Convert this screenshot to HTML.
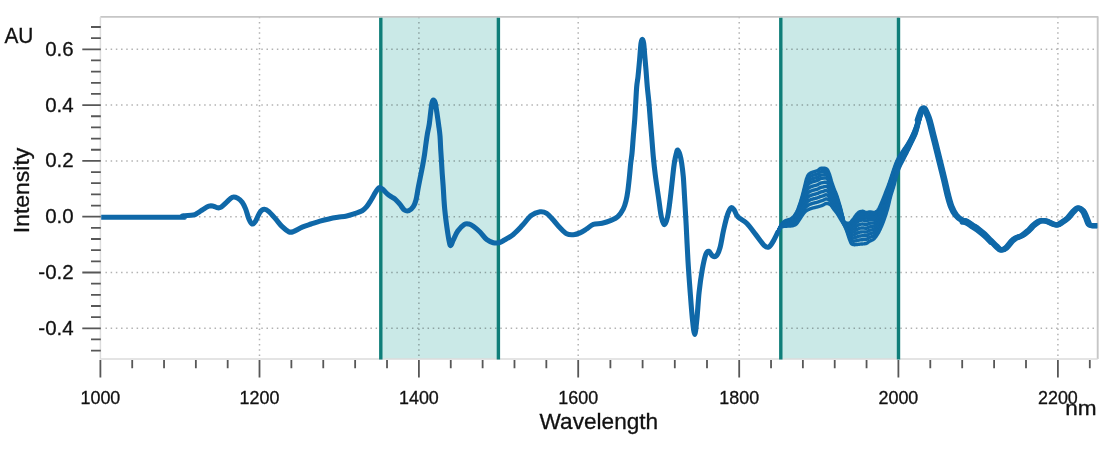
<!DOCTYPE html><html><head><meta charset="utf-8"><title>Spectrum</title><style>
html,body{margin:0;padding:0;background:#fff;width:1114px;height:450px;overflow:hidden}
svg{display:block;will-change:transform}
text{font-family:"Liberation Sans",Arial,sans-serif;fill:#111;stroke:#111;stroke-width:0.3px}
</style></head><body>
<svg width="1114" height="450" viewBox="0 0 1114 450">
<rect x="380.8" y="16.9" width="117.6" height="342.2" fill="#cae9e7"/>
<rect x="780.8" y="16.9" width="117.7" height="342.2" fill="#cae9e7"/>
<path d="M259.5 16.75 V358.1 M418.9 16.75 V358.1 M578.2 16.75 V358.1 M739.2 16.75 V358.1 M898.4 16.75 V358.1 M1057.9 16.75 V358.1 M105.45 49.3 H1096.7 M105.45 105.1 H1096.7 M105.45 160.9 H1096.7 M105.45 216.7 H1096.7 M105.45 272.5 H1096.7 M105.45 328.3 H1096.7" stroke="#000" stroke-opacity="0.3" stroke-width="1.5" stroke-dasharray="1.5 3.695" fill="none"/>
<path d="M100.4 16.9 H1097.7 V359.1" stroke="#c6c6c6" stroke-width="1.9" fill="none" stroke-linejoin="round"/>
<path d="M100.4 16.9 V359.1 H1097.7" stroke="#dcdcdc" stroke-width="1.5" fill="none"/>
<path d="M380.8 17.8 V359.5 M498.4 17.8 V359.5 M780.8 17.8 V359.5 M898.5 17.8 V359.5" stroke="#0f7e79" stroke-width="3.4" fill="none"/>
<path d="M91 350.62 H100.8 M91 339.46 H100.8 M82.3 328.3 H100.8 M91 317.14 H100.8 M91 305.98 H100.8 M91 294.82 H100.8 M91 283.66 H100.8 M82.3 272.5 H100.8 M91 261.34 H100.8 M91 250.18 H100.8 M91 239.02 H100.8 M91 227.86 H100.8 M82.3 216.7 H100.8 M91 205.54 H100.8 M91 194.38 H100.8 M91 183.22 H100.8 M91 172.06 H100.8 M82.3 160.9 H100.8 M91 149.74 H100.8 M91 138.58 H100.8 M91 127.42 H100.8 M91 116.26 H100.8 M82.3 105.1 H100.8 M91 93.94 H100.8 M91 82.78 H100.8 M91 71.62 H100.8 M91 60.46 H100.8 M82.3 49.3 H100.8 M91 38.14 H100.8 M91 26.98 H100.8 M100.4 359.9 V377.6 M132.22 359.9 V368.3 M164.04 359.9 V368.3 M195.86 359.9 V368.3 M227.68 359.9 V368.3 M259.5 359.9 V377.6 M291.38 359.9 V368.3 M323.26 359.9 V368.3 M355.14 359.9 V368.3 M387.02 359.9 V368.3 M418.9 359.9 V377.6 M450.76 359.9 V368.3 M482.62 359.9 V368.3 M514.48 359.9 V368.3 M546.34 359.9 V368.3 M578.2 359.9 V377.6 M610.4 359.9 V368.3 M642.6 359.9 V368.3 M674.8 359.9 V368.3 M707 359.9 V368.3 M739.2 359.9 V377.6 M771.04 359.9 V368.3 M802.88 359.9 V368.3 M834.72 359.9 V368.3 M866.56 359.9 V368.3 M898.4 359.9 V377.6 M930.3 359.9 V368.3 M962.2 359.9 V368.3 M994.1 359.9 V368.3 M1026 359.9 V368.3 M1057.9 359.9 V377.6 M1089.8 359.9 V368.3" stroke="#575757" stroke-width="1.8" fill="none"/>
<defs><clipPath id="pc"><rect x="101.2" y="16.9" width="996" height="342.2"/></clipPath></defs>
<g fill="none" stroke="#0f68a8" stroke-width="5.1" stroke-linejoin="round" stroke-linecap="round" clip-path="url(#pc)">
<path d="M100 217.2C113 217.2 164.5 217.23 178 217.2C191.5 217.17 180.08 217.23 181 217C181.92 216.77 181.45 216.12 183.5 215.8C185.55 215.48 190.92 215.58 193.3 215.1C195.68 214.62 196.32 213.75 197.8 212.9C199.28 212.05 200.35 211.12 202.2 210C204.05 208.88 207.05 206.83 208.9 206.2C210.75 205.57 211.82 205.93 213.3 206.2C214.78 206.47 216.5 207.65 217.8 207.8C219.1 207.95 219.62 208.03 221.1 207.1C222.58 206.17 224.85 203.83 226.7 202.2C228.55 200.57 230.35 197.97 232.2 197.3C234.05 196.63 236.13 197.38 237.8 198.2C239.47 199.02 240.9 200.42 242.2 202.2C243.5 203.98 244.48 206.12 245.6 208.9C246.72 211.68 247.8 216.38 248.9 218.9C250 221.42 251.08 223.63 252.2 224C253.32 224.37 254.3 223.07 255.6 221.1C256.9 219.13 258.53 214.17 260 212.2C261.47 210.23 262.92 209.4 264.4 209.3C265.88 209.2 267.03 210 268.9 211.6C270.77 213.2 273.38 216.38 275.6 218.9C277.82 221.42 279.98 224.55 282.2 226.7C284.42 228.85 287.05 230.98 288.9 231.8C290.75 232.62 291.08 232.38 293.3 231.6C295.52 230.82 299.23 228.37 302.2 227.1C305.17 225.83 308.13 225 311.1 224C314.07 223 317.03 221.95 320 221.1C322.97 220.25 325.93 219.53 328.9 218.9C331.87 218.27 334.83 217.78 337.8 217.3C340.77 216.82 343.73 216.67 346.7 216C349.67 215.33 353.02 214.18 355.6 213.3C358.18 212.42 360.35 211.8 362.2 210.7C364.05 209.6 365.22 208.48 366.7 206.7C368.18 204.92 369.62 202.42 371.1 200C372.58 197.58 374.3 194.23 375.6 192.2C376.9 190.17 377.8 188.35 378.9 187.8C380 187.25 380.9 187.98 382.2 188.9C383.5 189.82 385.22 192 386.7 193.3C388.18 194.6 389.62 195.65 391.1 196.7C392.58 197.75 394.12 198.32 395.6 199.6C397.08 200.88 398.53 202.67 400 204.4C401.47 206.13 402.92 208.95 404.4 210C405.88 211.05 407.42 211.25 408.9 210.7C410.38 210.15 412.12 208.48 413.3 206.7C414.48 204.92 415.22 202.95 416 200C416.78 197.05 417.33 192.55 418 189C418.67 185.45 419.22 182.65 420 178.7C420.78 174.75 421.95 169.3 422.7 165.3C423.45 161.3 423.97 158.25 424.5 154.7C425.03 151.15 425.4 147.57 425.9 144C426.4 140.43 426.93 136.63 427.5 133.3C428.07 129.97 428.77 127.55 429.3 124C429.83 120.45 430.25 115.55 430.7 112C431.15 108.45 431.57 104.7 432 102.7C432.43 100.7 432.77 100 433.3 100C433.83 100 434.62 100.7 435.2 102.7C435.78 104.7 436.22 108.23 436.8 112C437.38 115.77 438.17 121.3 438.7 125.3C439.23 129.3 439.67 132 440 136C440.33 140 440.47 145.3 440.7 149.3C440.93 153.3 441.15 156 441.4 160C441.65 164 441.9 168.85 442.2 173.3C442.5 177.75 442.9 182.25 443.2 186.7C443.5 191.15 443.73 196.12 444 200C444.27 203.88 444.43 206.3 444.8 210C445.17 213.7 445.52 217.2 446.2 222.2C446.88 227.2 448.15 236.1 448.9 240C449.65 243.9 449.97 245.6 450.7 245.6C451.43 245.6 452.12 242.42 453.3 240C454.48 237.58 455.95 233.7 457.8 231.1C459.65 228.5 462.55 225.58 464.4 224.4C466.25 223.22 467.42 223.7 468.9 224C470.38 224.3 471.45 224.87 473.3 226.2C475.15 227.53 477.77 229.77 480 232C482.23 234.23 484.48 237.82 486.7 239.6C488.92 241.38 491.27 242.18 493.3 242.7C495.33 243.22 497.05 243.15 498.9 242.7C500.75 242.25 502 241.38 504.4 240C506.8 238.62 510.33 236.8 513.3 234.4C516.27 232 519.23 228.73 522.2 225.6C525.17 222.47 528.13 217.9 531.1 215.6C534.07 213.3 537.4 212.18 540 211.8C542.6 211.42 544.48 211.93 546.7 213.3C548.92 214.67 551.08 217.58 553.3 220C555.52 222.42 557.77 225.5 560 227.8C562.23 230.1 564.48 232.65 566.7 233.8C568.92 234.95 571.08 234.85 573.3 234.7C575.52 234.55 577.77 233.87 580 232.9C582.23 231.93 584.48 230.32 586.7 228.9C588.92 227.48 590.72 225.33 593.3 224.4C595.88 223.47 599.23 223.97 602.2 223.3C605.17 222.63 608.5 221.5 611.1 220.4C613.7 219.3 615.77 218.62 617.8 216.7C619.83 214.78 621.9 211.68 623.3 208.9C624.7 206.12 625.45 202.97 626.2 200C626.95 197.03 627.28 194.77 627.8 191.1C628.32 187.43 628.82 182.63 629.3 178C629.78 173.37 630.25 167.42 630.7 163.3C631.15 159.18 631.57 157.73 632 153.3C632.43 148.87 632.85 142.25 633.3 136.7C633.75 131.15 634.3 125.57 634.7 120C635.1 114.43 635.37 108.85 635.7 103.3C636.03 97.75 636.32 91.13 636.7 86.7C637.08 82.27 637.57 80.6 638 76.7C638.43 72.8 638.97 66.92 639.3 63.3C639.63 59.68 639.72 58.33 640 55C640.28 51.67 640.62 45.92 641 43.3C641.38 40.68 641.85 39.3 642.3 39.3C642.75 39.3 643.3 40.68 643.7 43.3C644.1 45.92 644.32 50.55 644.7 55C645.08 59.45 645.57 64.72 646 70C646.43 75.28 646.8 81.15 647.3 86.7C647.8 92.25 648.5 97.75 649 103.3C649.5 108.85 649.85 114.43 650.3 120C650.75 125.57 651.2 130.58 651.7 136.7C652.2 142.82 652.7 150.32 653.3 156.7C653.9 163.08 654.4 167.97 655.3 175C656.2 182.03 657.7 191.95 658.7 198.9C659.7 205.85 660.35 212.4 661.3 216.7C662.25 221 663.35 224.7 664.4 224.7C665.45 224.7 666.63 221 667.6 216.7C668.57 212.4 669.35 205.57 670.2 198.9C671.05 192.23 672.02 182.63 672.7 176.7C673.38 170.77 673.72 167.08 674.3 163.3C674.88 159.52 675.63 156.22 676.2 154C676.77 151.78 677.07 149.83 677.7 150C678.33 150.17 679.33 152.78 680 155C680.67 157.22 681.15 159.68 681.7 163.3C682.25 166.92 682.85 171.52 683.3 176.7C683.75 181.88 683.92 186.25 684.4 194.4C684.88 202.55 685.6 214.48 686.2 225.6C686.8 236.72 687.33 250 688 261.1C688.67 272.2 689.47 282.57 690.2 292.2C690.93 301.83 691.65 311.87 692.4 318.9C693.15 325.93 693.95 334.4 694.7 334.4C695.45 334.4 696.17 325.93 696.9 318.9C697.63 311.87 698.22 300.35 699.1 292.2C699.98 284.05 701.08 276.3 702.2 270C703.32 263.7 704.68 257.52 705.8 254.4C706.92 251.28 707.8 251.07 708.9 251.3C710 251.53 711.15 255.05 712.4 255.8C713.65 256.55 715.13 257.13 716.4 255.8C717.67 254.47 718.8 252.1 720 247.8C721.2 243.5 722.33 235.57 723.6 230C724.87 224.43 726.35 218.1 727.6 214.4C728.85 210.7 730 208.53 731.1 207.8C732.2 207.07 733.08 208.52 734.2 210C735.32 211.48 735.72 214.48 737.8 216.7C739.88 218.92 743.73 220.35 746.7 223.3C749.67 226.25 752.65 230.68 755.6 234.4C758.55 238.12 762.18 243.52 764.4 245.6C766.62 247.68 767.42 247.65 768.9 246.9C770.38 246.15 771.82 243.55 773.3 241.1C774.78 238.65 777.05 233.68 777.8 232.2"/>
<path d="M918 120C918.43 118.77 919.87 114.47 920.6 112.6C921.33 110.73 921.78 109.5 922.4 108.8C923.02 108.1 923.65 107.82 924.3 108.4C924.95 108.98 925.47 110.37 926.3 112.3C927.13 114.23 928.23 116.5 929.3 120C930.37 123.5 931.5 128.58 932.7 133.3C933.9 138.02 935.25 143.3 936.5 148.3C937.75 153.3 938.9 158.02 940.2 163.3C941.5 168.58 943.03 174.72 944.3 180C945.57 185.28 946.63 190.55 947.8 195C948.97 199.45 949.97 203.37 951.3 206.7C952.63 210.03 954.07 212.78 955.8 215C957.53 217.22 960 219 961.7 220C963.4 221 964.28 220.17 966 221C967.72 221.83 970 223.67 972 225C974 226.33 976 227.5 978 229C980 230.5 982 232.17 984 234C986 235.83 988 238 990 240C992 242 994.17 244.33 996 246C997.83 247.67 999.33 249.67 1001 250C1002.67 250.33 1004.17 249.5 1006 248C1007.83 246.5 1010.33 242.67 1012 241C1013.67 239.33 1014.33 238.9 1016 238C1017.67 237.1 1020 236.77 1022 235.6C1024 234.43 1026 232.77 1028 231C1030 229.23 1032 226.67 1034 225C1036 223.33 1038 221.67 1040 221C1042 220.33 1044 220.57 1046 221C1048 221.43 1050.17 222.93 1052 223.6C1053.83 224.27 1055.33 225.2 1057 225C1058.67 224.8 1060.17 223.57 1062 222.4C1063.83 221.23 1066.17 219.73 1068 218C1069.83 216.27 1071.33 213.67 1073 212C1074.67 210.33 1076.33 208.17 1078 208C1079.67 207.83 1081.67 209.5 1083 211C1084.33 212.5 1085 214.77 1086 217C1087 219.23 1088 222.97 1089 224.4C1090 225.83 1090.5 225.4 1092 225.6C1093.5 225.8 1097 225.6 1098 225.6"/>
<path d="M918 120C918.43 118.77 919.87 114.47 920.6 112.6C921.33 110.73 921.78 109.5 922.4 108.8C923.02 108.1 923.65 107.82 924.3 108.4C924.95 108.98 925.47 110.37 926.3 112.3C927.13 114.23 928.23 116.5 929.3 120C930.37 123.5 931.5 128.58 932.7 133.3C933.9 138.02 935.25 143.3 936.5 148.3C937.75 153.3 938.9 158.02 940.2 163.3C941.5 168.58 943.03 174.72 944.3 180C945.57 185.28 946.63 190.55 947.8 195C948.97 199.45 949.97 203.37 951.3 206.7C952.63 210.03 954.07 212.78 955.8 215C957.53 217.22 960 219 961.7 220C963.4 221 964.28 220.17 966 221C967.72 221.83 970 223.67 972 225C974 226.33 976 227.5 978 229C980 230.5 982 232.17 984 234C986 235.83 988 238 990 240C992 242 994.17 244.33 996 246C997.83 247.67 999.33 249.67 1001 250C1002.67 250.33 1004.17 249.5 1006 248C1007.83 246.5 1010.33 242.67 1012 241C1013.67 239.33 1014.33 238.9 1016 238C1017.67 237.1 1020 236.77 1022 235.6C1024 234.43 1026 232.77 1028 231C1030 229.23 1032 226.67 1034 225C1036 223.33 1038 221.67 1040 221C1042 220.33 1044 220.57 1046 221C1048 221.43 1050.17 222.93 1052 223.6C1053.83 224.27 1055.33 225.2 1057 225C1058.67 224.8 1060.17 223.57 1062 222.4C1063.83 221.23 1066.17 219.73 1068 218C1069.83 216.27 1071.33 213.67 1073 212C1074.67 210.33 1076.33 208.17 1078 208C1079.67 207.83 1081.67 209.5 1083 211C1084.33 212.5 1085 214.77 1086 217C1087 219.23 1088 222.97 1089 224.4C1090 225.83 1090.5 225.4 1092 225.6C1093.5 225.8 1097 225.6 1098 225.6" transform="translate(-0.8 0)"/>
<path d="M918 120C918.43 118.77 919.87 114.47 920.6 112.6C921.33 110.73 921.78 109.5 922.4 108.8C923.02 108.1 923.65 107.82 924.3 108.4C924.95 108.98 925.47 110.37 926.3 112.3C927.13 114.23 928.23 116.5 929.3 120C930.37 123.5 931.5 128.58 932.7 133.3C933.9 138.02 935.25 143.3 936.5 148.3C937.75 153.3 938.9 158.02 940.2 163.3C941.5 168.58 943.03 174.72 944.3 180C945.57 185.28 946.63 190.55 947.8 195C948.97 199.45 949.97 203.37 951.3 206.7C952.63 210.03 954.07 212.78 955.8 215C957.53 217.22 960 219 961.7 220C963.4 221 964.28 220.17 966 221C967.72 221.83 970 223.67 972 225C974 226.33 976 227.5 978 229C980 230.5 982 232.17 984 234C986 235.83 988 238 990 240C992 242 994.17 244.33 996 246C997.83 247.67 999.33 249.67 1001 250C1002.67 250.33 1004.17 249.5 1006 248C1007.83 246.5 1010.33 242.67 1012 241C1013.67 239.33 1014.33 238.9 1016 238C1017.67 237.1 1020 236.77 1022 235.6C1024 234.43 1026 232.77 1028 231C1030 229.23 1032 226.67 1034 225C1036 223.33 1038 221.67 1040 221C1042 220.33 1044 220.57 1046 221C1048 221.43 1050.17 222.93 1052 223.6C1053.83 224.27 1055.33 225.2 1057 225C1058.67 224.8 1060.17 223.57 1062 222.4C1063.83 221.23 1066.17 219.73 1068 218C1069.83 216.27 1071.33 213.67 1073 212C1074.67 210.33 1076.33 208.17 1078 208C1079.67 207.83 1081.67 209.5 1083 211C1084.33 212.5 1085 214.77 1086 217C1087 219.23 1088 222.97 1089 224.4C1090 225.83 1090.5 225.4 1092 225.6C1093.5 225.8 1097 225.6 1098 225.6" transform="translate(0.8 0)"/>
<path d="M961.7 220C962.42 220.17 964.28 220.17 966 221C967.72 221.83 970 223.67 972 225C974 226.33 976 227.5 978 229C980 230.5 982 232.17 984 234C986 235.83 989 239 990 240" transform="translate(0.5 2.2)"/>
<path d="M777.8 232.2 778.2 231.17 778.6 230.18 779 229.24 779.4 228.34 779.8 227.49 780.2 226.68 780.6 225.93 781 225.22 781.4 224.57 781.8 223.97 782.2 223.43 782.6 222.95 783 222.52 783.4 222.15 783.8 221.81 784.2 221.52 784.6 221.25 785 221.01 785.4 220.79 785.8 220.59 786.2 220.42 786.6 220.27 787 220.13 787.4 220.01 787.8 219.89 788.2 219.78 788.6 219.67 789 219.56 789.4 219.43 789.8 219.3 790.2 219.14 790.6 218.96 791 218.76 791.4 218.52 791.8 218.23 792.2 217.9 792.6 217.54 793 217.14 793.4 216.7 793.8 216.23 794.2 215.73 794.6 215.19 795 214.63 795.4 214.05 795.8 213.44 796.2 212.8 796.6 212.13 797 211.35 797.4 210.46 797.8 209.48 798.2 208.43 798.6 207.32 799 206.18 799.4 205.02 799.8 203.86 800.2 202.67 800.6 201.42 801 200.11 801.4 198.76 801.8 197.37 802.2 195.94 802.6 194.47 803 192.93 803.4 191.32 803.8 189.68 804.2 188.04 804.6 186.4 805 184.79 805.4 183.07 805.8 181.35 806.2 179.8 806.6 178.58 807 177.53 807.4 176.56 807.8 175.7 808.2 174.99 808.6 174.46 809 174.09 809.4 173.77 809.8 173.49 810.2 173.25 810.6 173.03 811 172.84 811.4 172.66 811.8 172.49 812.2 172.32 812.6 172.16 813 172.01 813.4 171.88 813.8 171.76 814.2 171.64 814.6 171.54 815 171.43 815.4 171.32 815.8 171.2 816.2 171.08 816.6 170.95 817 170.8 817.4 170.64 817.8 170.42 818.2 170.15 818.6 169.83 819 169.5 819.4 169.16 819.8 168.85 820.2 168.58 820.6 168.38 821 168.26 821.4 168.23 821.8 168.23 822.2 168.23 822.6 168.24 823 168.24 823.4 168.24 823.8 168.25 824.2 168.26 824.6 168.26 825 168.3 825.4 168.4 825.8 168.55 826.2 168.76 826.6 169 827 169.28 827.4 169.66 827.8 170.29 828.2 171.12 828.6 172.07 829 173.09 829.4 174.12 829.8 175.3 830.2 176.64 830.6 178.07 831 179.54 831.4 180.96 831.8 182.26 832.2 183.48 832.6 184.66 833 185.81 833.4 186.93 833.8 188.02 834.2 189.08 834.6 190.09 835 191.05 835.4 192 835.8 192.96 836.2 193.95 836.6 195 837 196.14 837.4 197.37 837.8 198.67 838.2 200 838.6 201.34 839 202.65 839.4 203.96 839.8 205.3 840.2 206.69 840.6 208.17 841 209.79 841.4 211.5 841.8 213.2 842.2 214.81 842.6 216.42 843 218.17 843.4 219.83 843.8 221.19 844.2 222.01 844.6 222.26 845 222.46 845.4 222.64 845.8 222.79 846.2 222.93 846.6 223.04 847 223.14 847.4 223.21 847.8 223.27 848.2 223.3 848.6 223.32 849 223.31 849.4 223.19 849.8 222.96 850.2 222.64 850.6 222.24 851 221.78 851.4 221.28 851.8 220.76 852.2 220.24 852.6 219.73 853 219.26 853.4 218.78 853.8 218.26 854.2 217.7 854.6 217.12 855 216.54 855.4 215.97 855.8 215.43 856.2 214.92 856.6 214.46 857 214.05 857.4 213.62 857.8 213.2 858.2 212.8 858.6 212.44 859 212.13 859.4 211.89 859.8 211.74 860.2 211.64 860.6 211.55 861 211.46 861.4 211.4 861.8 211.34 862.2 211.31 862.6 211.3 863 211.32 863.4 211.42 863.8 211.56 864.2 211.74 864.6 211.93 865 212.12 865.4 212.29 865.8 212.42 866.2 212.49 866.6 212.49 867 212.45 867.4 212.38 867.8 212.29 868.2 212.19 868.6 212.09 869 212.01 869.4 211.94 869.8 211.9 870.2 211.9 870.6 211.94 871 211.99 871.4 212.07 871.8 212.16 872.2 212.25 872.6 212.34 873 212.42 873.4 212.49 873.8 212.55 874.2 212.57 874.6 212.55 875 212.44 875.4 212.26 875.8 212.01 876.2 211.71 876.6 211.36 877 210.98 877.4 210.58 877.8 210.16 878.2 209.7 878.6 209.08 879 208.34 879.4 207.5 879.8 206.62 880.2 205.72 880.6 204.85 881 203.95 881.4 203.01 881.8 202.04 882.2 201.05 882.6 200.04 883 199.03 883.4 198.01 883.8 197.01 884.2 196.01 884.6 195.01 885 194.01 885.4 193 885.8 191.99 886.2 190.98 886.6 189.96 887 188.93 887.4 187.89 887.8 186.83 888.2 185.77 888.6 184.69 889 183.59 889.4 182.48 889.8 181.32 890.2 180.13 890.6 178.91 891 177.67 891.4 176.42 891.8 175.17 892.2 173.92 892.6 172.69 893 171.49 893.4 170.31 893.8 169.18 894.2 168.05 894.6 166.92 895 165.8 895.4 164.71 895.8 163.64 896.2 162.63 896.6 161.67 897 160.78 897.4 159.96 897.8 159.16 898.2 158.4 898.6 157.67 899 156.97 899.4 156.29 899.8 155.62 900.2 154.97 900.6 154.33 901 153.71 901.4 153.08 901.8 152.46 902.2 151.84 902.6 151.21 903 150.58 903.4 149.95 903.8 149.35 904.2 148.76 904.6 148.18 905 147.6 905.4 147.03 905.8 146.45 906.2 145.86 906.6 145.26 907 144.65 907.4 144.01 907.8 143.34 908.2 142.65 908.6 141.96 909 141.25 909.4 140.53 909.8 139.79 910.2 139.04 910.6 138.28 911 137.5 911.4 136.7 911.8 135.88 912.2 135.05 912.6 134.19 913 133.31 913.4 132.4 913.8 131.47 914.2 130.51 914.6 129.47 915 128.36 915.4 127.19 915.8 125.99 916.2 124.76 916.6 123.54 917 122.33 917.4 121.16 917.8 120.04 918.2 118.97 918.6 117.93 919 116.9 919.4 115.89 919.8 114.89 920.2 113.91 920.6 112.94 921 111.99 921.4 111.06 921.8 110.14 922.2 109.24" stroke-width="3.4"/>
<path d="M777.8 232.2 778.2 231.2 778.6 230.23 779 229.31 779.4 228.43 779.8 227.6 780.2 226.82 780.6 226.09 781 225.41 781.4 224.79 781.8 224.22 782.2 223.72 782.6 223.27 783 222.88 783.4 222.54 783.8 222.23 784.2 221.95 784.6 221.71 785 221.48 785.4 221.28 785.8 221.1 786.2 220.94 786.6 220.8 787 220.67 787.4 220.56 787.8 220.46 788.2 220.35 788.6 220.25 789 220.15 789.4 220.03 789.8 219.9 790.2 219.76 790.6 219.6 791 219.41 791.4 219.18 791.8 218.92 792.2 218.62 792.6 218.28 793 217.9 793.4 217.49 793.8 217.05 794.2 216.58 794.6 216.08 795 215.56 795.4 215 795.8 214.43 796.2 213.83 796.6 213.18 797 212.42 797.4 211.56 797.8 210.61 798.2 209.6 798.6 208.55 799 207.46 799.4 206.35 799.8 205.23 800.2 204.09 800.6 202.9 801 201.66 801.4 200.37 801.8 199.05 802.2 197.7 802.6 196.31 803 194.86 803.4 193.35 803.8 191.81 804.2 190.26 804.6 188.73 805 187.22 805.4 185.62 805.8 184.03 806.2 182.6 806.6 181.47 807 180.49 807.4 179.58 807.8 178.78 808.2 178.11 808.6 177.62 809 177.26 809.4 176.96 809.8 176.69 810.2 176.45 810.6 176.24 811 176.05 811.4 175.88 811.8 175.71 812.2 175.55 812.6 175.39 813 175.25 813.4 175.12 813.8 175 814.2 174.89 814.6 174.78 815 174.67 815.4 174.56 815.8 174.45 816.2 174.33 816.6 174.2 817 174.06 817.4 173.9 817.8 173.7 818.2 173.43 818.6 173.13 819 172.82 819.4 172.51 819.8 172.21 820.2 171.96 820.6 171.76 821 171.64 821.4 171.6 821.8 171.59 822.2 171.58 822.6 171.57 823 171.56 823.4 171.54 823.8 171.52 824.2 171.51 824.6 171.49 825 171.5 825.4 171.57 825.8 171.7 826.2 171.88 826.6 172.1 827 172.36 827.4 172.71 827.8 173.29 828.2 174.05 828.6 174.93 829 175.87 829.4 176.82 829.8 177.91 830.2 179.15 830.6 180.48 831 181.85 831.4 183.18 831.8 184.42 832.2 185.58 832.6 186.71 833 187.81 833.4 188.88 833.8 189.92 834.2 190.94 834.6 191.9 835 192.82 835.4 193.73 835.8 194.65 836.2 195.6 836.6 196.6 837 197.69 837.4 198.86 837.8 200.1 838.2 201.37 838.6 202.64 839 203.9 839.4 205.15 839.8 206.43 840.2 207.76 840.6 209.16 841 210.71 841.4 212.32 841.8 213.93 842.2 215.44 842.6 216.96 843 218.61 843.4 220.19 843.8 221.49 844.2 222.3 844.6 222.6 845 222.86 845.4 223.1 845.8 223.32 846.2 223.54 846.6 223.73 847 223.92 847.4 224.08 847.8 224.24 848.2 224.4 848.6 224.53 849 224.63 849.4 224.63 849.8 224.51 850.2 224.3 850.6 224.03 851 223.69 851.4 223.3 851.8 222.85 852.2 222.4 852.6 221.95 853 221.53 853.4 221.1 853.8 220.63 854.2 220.13 854.6 219.6 855 219.08 855.4 218.55 855.8 218.06 856.2 217.59 856.6 217.17 857 216.79 857.4 216.39 857.8 216.01 858.2 215.64 858.6 215.3 859 215.02 859.4 214.8 859.8 214.65 860.2 214.56 860.6 214.47 861 214.4 861.4 214.33 861.8 214.28 862.2 214.25 862.6 214.23 863 214.25 863.4 214.34 863.8 214.47 864.2 214.63 864.6 214.8 865 214.97 865.4 215.11 865.8 215.23 866.2 215.28 866.6 215.27 867 215.21 867.4 215.12 867.8 215.01 868.2 214.89 868.6 214.77 869 214.66 869.4 214.58 869.8 214.53 870.2 214.52 870.6 214.53 871 214.57 871.4 214.62 871.8 214.68 872.2 214.75 872.6 214.82 873 214.87 873.4 214.91 873.8 214.93 874.2 214.92 874.6 214.86 875 214.72 875.4 214.51 875.8 214.24 876.2 213.91 876.6 213.55 877 213.14 877.4 212.72 877.8 212.28 878.2 211.8 878.6 211.18 879 210.43 879.4 209.6 879.8 208.72 880.2 207.83 880.6 206.96 881 206.06 881.4 205.13 881.8 204.16 882.2 203.17 882.6 202.16 883 201.15 883.4 200.13 883.8 199.12 884.2 198.11 884.6 197.1 885 196.08 885.4 195.06 885.8 194.03 886.2 192.99 886.6 191.95 887 190.89 887.4 189.82 887.8 188.74 888.2 187.63 888.6 186.49 889 185.34 889.4 184.17 889.8 182.97 890.2 181.74 890.6 180.5 891 179.24 891.4 177.98 891.8 176.72 892.2 175.48 892.6 174.24 893 173.03 893.4 171.85 893.8 170.7 894.2 169.55 894.6 168.39 895 167.23 895.4 166.09 895.8 164.99 896.2 163.94 896.6 162.94 897 162.01 897.4 161.15 897.8 160.31 898.2 159.51 898.6 158.75 899 158.02 899.4 157.31 899.8 156.62 900.2 155.96 900.6 155.3 901 154.66 901.4 154.03 901.8 153.39 902.2 152.76 902.6 152.11 903 151.47 903.4 150.83 903.8 150.2 904.2 149.6 904.6 149 905 148.4 905.4 147.81 905.8 147.22 906.2 146.61 906.6 146 907 145.36 907.4 144.71 907.8 144.03 908.2 143.34 908.6 142.63 909 141.91 909.4 141.18 909.8 140.44 910.2 139.69 910.6 138.92 911 138.13 911.4 137.33 911.8 136.51 912.2 135.67 912.6 134.82 913 133.94 913.4 133.05 913.8 132.13 914.2 131.18 914.6 130.16 915 129.07 915.4 127.92 915.8 126.74 916.2 125.53 916.6 124.31 917 123.1 917.4 121.9 917.8 120.74 918.2 119.63 918.6 118.53 919 117.45 919.4 116.39 919.8 115.34 920.2 114.3 920.6 113.28 921 112.27 921.4 111.27 921.8 110.29 922.2 109.32" stroke-width="3.4"/>
<path d="M777.8 232.2 778.2 231.22 778.6 230.28 779 229.38 779.4 228.52 779.8 227.71 780.2 226.95 780.6 226.24 781 225.59 781.4 225 781.8 224.48 782.2 224.01 782.6 223.6 783 223.24 783.4 222.93 783.8 222.65 784.2 222.39 784.6 222.17 785 221.96 785.4 221.78 785.8 221.61 786.2 221.46 786.6 221.33 787 221.22 787.4 221.11 787.8 221.02 788.2 220.92 788.6 220.83 789 220.73 789.4 220.63 789.8 220.51 790.2 220.38 790.6 220.23 791 220.06 791.4 219.85 791.8 219.61 792.2 219.33 792.6 219.01 793 218.67 793.4 218.29 793.8 217.88 794.2 217.44 794.6 216.97 795 216.48 795.4 215.96 795.8 215.42 796.2 214.85 796.6 214.23 797 213.49 797.4 212.66 797.8 211.75 798.2 210.78 798.6 209.77 799 208.73 799.4 207.67 799.8 206.61 800.2 205.52 800.6 204.38 801 203.2 801.4 201.98 801.8 200.73 802.2 199.46 802.6 198.16 803 196.79 803.4 195.37 803.8 193.93 804.2 192.49 804.6 191.06 805 189.66 805.4 188.18 805.8 186.72 806.2 185.4 806.6 184.35 807 183.44 807.4 182.6 807.8 181.86 808.2 181.24 808.6 180.77 809 180.44 809.4 180.14 809.8 179.89 810.2 179.66 810.6 179.45 811 179.27 811.4 179.09 811.8 178.93 812.2 178.78 812.6 178.62 813 178.48 813.4 178.35 813.8 178.24 814.2 178.13 814.6 178.02 815 177.91 815.4 177.81 815.8 177.7 816.2 177.58 816.6 177.46 817 177.32 817.4 177.16 817.8 176.97 818.2 176.72 818.6 176.44 819 176.14 819.4 175.85 819.8 175.57 820.2 175.33 820.6 175.14 821 175.02 821.4 174.97 821.8 174.95 822.2 174.92 822.6 174.9 823 174.87 823.4 174.84 823.8 174.8 824.2 174.76 824.6 174.72 825 174.7 825.4 174.75 825.8 174.85 826.2 175 826.6 175.2 827 175.43 827.4 175.76 827.8 176.29 828.2 176.98 828.6 177.79 829 178.65 829.4 179.53 829.8 180.53 830.2 181.66 830.6 182.89 831 184.16 831.4 185.41 831.8 186.58 832.2 187.68 832.6 188.76 833 189.81 833.4 190.83 833.8 191.82 834.2 192.79 834.6 193.7 835 194.59 835.4 195.46 835.8 196.34 836.2 197.25 836.6 198.21 837 199.24 837.4 200.36 837.8 201.53 838.2 202.74 838.6 203.95 839 205.15 839.4 206.34 839.8 207.56 840.2 208.83 840.6 210.16 841 211.62 841.4 213.14 841.8 214.65 842.2 216.08 842.6 217.51 843 219.06 843.4 220.55 843.8 221.79 844.2 222.59 844.6 222.94 845 223.25 845.4 223.56 845.8 223.86 846.2 224.15 846.6 224.43 847 224.7 847.4 224.96 847.8 225.22 848.2 225.49 848.6 225.74 849 225.96 849.4 226.06 849.8 226.05 850.2 225.97 850.6 225.82 851 225.6 851.4 225.31 851.8 224.95 852.2 224.55 852.6 224.17 853 223.8 853.4 223.43 853.8 223.01 854.2 222.56 854.6 222.09 855 221.61 855.4 221.14 855.8 220.68 856.2 220.26 856.6 219.88 857 219.53 857.4 219.17 857.8 218.81 858.2 218.48 858.6 218.17 859 217.91 859.4 217.7 859.8 217.57 860.2 217.48 860.6 217.4 861 217.33 861.4 217.27 861.8 217.22 862.2 217.19 862.6 217.17 863 217.19 863.4 217.26 863.8 217.37 864.2 217.51 864.6 217.66 865 217.81 865.4 217.94 865.8 218.03 866.2 218.08 866.6 218.05 867 217.97 867.4 217.86 867.8 217.73 868.2 217.58 868.6 217.45 869 217.32 869.4 217.23 869.8 217.16 870.2 217.13 870.6 217.12 871 217.14 871.4 217.17 871.8 217.21 872.2 217.26 872.6 217.29 873 217.32 873.4 217.33 873.8 217.31 874.2 217.27 874.6 217.17 875 217 875.4 216.76 875.8 216.46 876.2 216.11 876.6 215.73 877 215.3 877.4 214.86 877.8 214.4 878.2 213.9 878.6 213.27 879 212.53 879.4 211.7 879.8 210.83 880.2 209.94 880.6 209.07 881 208.17 881.4 207.24 881.8 206.27 882.2 205.29 882.6 204.28 883 203.27 883.4 202.25 883.8 201.23 884.2 200.21 884.6 199.19 885 198.16 885.4 197.12 885.8 196.07 886.2 195.01 886.6 193.94 887 192.86 887.4 191.76 887.8 190.64 888.2 189.48 888.6 188.3 889 187.09 889.4 185.87 889.8 184.62 890.2 183.35 890.6 182.08 891 180.81 891.4 179.54 891.8 178.28 892.2 177.03 892.6 175.79 893 174.58 893.4 173.38 893.8 172.22 894.2 171.04 894.6 169.85 895 168.66 895.4 167.48 895.8 166.34 896.2 165.24 896.6 164.21 897 163.25 897.4 162.34 897.8 161.46 898.2 160.62 898.6 159.82 899 159.06 899.4 158.33 899.8 157.63 900.2 156.94 900.6 156.27 901 155.62 901.4 154.97 901.8 154.32 902.2 153.67 902.6 153.01 903 152.35 903.4 151.7 903.8 151.06 904.2 150.43 904.6 149.82 905 149.21 905.4 148.6 905.8 147.98 906.2 147.36 906.6 146.73 907 146.08 907.4 145.41 907.8 144.72 908.2 144.02 908.6 143.3 909 142.57 909.4 141.84 909.8 141.09 910.2 140.33 910.6 139.56 911 138.77 911.4 137.96 911.8 137.14 912.2 136.3 912.6 135.45 913 134.58 913.4 133.69 913.8 132.79 914.2 131.85 914.6 130.85 915 129.78 915.4 128.65 915.8 127.49 916.2 126.3 916.6 125.08 917 123.86 917.4 122.64 917.8 121.44 918.2 120.28 918.6 119.13 919 118 919.4 116.88 919.8 115.78 920.2 114.69 920.6 113.61 921 112.54 921.4 111.48 921.8 110.44 922.2 109.4" stroke-width="3.4"/>
<path d="M777.8 232.2 778.2 231.25 778.6 230.33 779 229.45 779.4 228.61 779.8 227.82 780.2 227.09 780.6 226.4 781 225.78 781.4 225.22 781.8 224.73 782.2 224.31 782.6 223.93 783 223.6 783.4 223.32 783.8 223.06 784.2 222.83 784.6 222.63 785 222.44 785.4 222.27 785.8 222.12 786.2 221.99 786.6 221.87 787 221.76 787.4 221.67 787.8 221.58 788.2 221.49 788.6 221.41 789 221.32 789.4 221.22 789.8 221.12 790.2 221 790.6 220.86 791 220.7 791.4 220.52 791.8 220.3 792.2 220.04 792.6 219.75 793 219.43 793.4 219.08 793.8 218.7 794.2 218.29 794.6 217.86 795 217.4 795.4 216.92 795.8 216.42 796.2 215.88 796.6 215.27 797 214.57 797.4 213.76 797.8 212.89 798.2 211.96 798.6 210.99 799 210 799.4 209 799.8 207.98 800.2 206.94 800.6 205.86 801 204.74 801.4 203.58 801.8 202.41 802.2 201.22 802.6 200 803 198.72 803.4 197.4 803.8 196.06 804.2 194.72 804.6 193.39 805 192.1 805.4 190.74 805.8 189.4 806.2 188.2 806.6 187.24 807 186.4 807.4 185.63 807.8 184.94 808.2 184.37 808.6 183.93 809 183.61 809.4 183.33 809.8 183.08 810.2 182.86 810.6 182.66 811 182.48 811.4 182.31 811.8 182.15 812.2 182 812.6 181.85 813 181.72 813.4 181.59 813.8 181.47 814.2 181.37 814.6 181.26 815 181.16 815.4 181.05 815.8 180.95 816.2 180.83 816.6 180.71 817 180.58 817.4 180.43 817.8 180.24 818.2 180.01 818.6 179.74 819 179.47 819.4 179.19 819.8 178.93 820.2 178.71 820.6 178.52 821 178.4 821.4 178.34 821.8 178.31 822.2 178.27 822.6 178.23 823 178.19 823.4 178.14 823.8 178.07 824.2 178.01 824.6 177.95 825 177.91 825.4 177.92 825.8 178 826.2 178.12 826.6 178.3 827 178.51 827.4 178.8 827.8 179.29 828.2 179.92 828.6 180.65 829 181.44 829.4 182.23 829.8 183.14 830.2 184.18 830.6 185.3 831 186.47 831.4 187.64 831.8 188.74 832.2 189.79 832.6 190.82 833 191.82 833.4 192.79 833.8 193.73 834.2 194.64 834.6 195.51 835 196.35 835.4 197.19 835.8 198.03 836.2 198.89 836.6 199.81 837 200.79 837.4 201.85 837.8 202.96 838.2 204.11 838.6 205.26 839 206.4 839.4 207.54 839.8 208.7 840.2 209.9 840.6 211.16 841 212.53 841.4 213.95 841.8 215.37 842.2 216.71 842.6 218.06 843 219.51 843.4 220.91 843.8 222.09 844.2 222.88 844.6 223.28 845 223.65 845.4 224.02 845.8 224.39 846.2 224.76 846.6 225.12 847 225.48 847.4 225.83 847.8 226.2 848.2 226.58 848.6 226.94 849 227.28 849.4 227.5 849.8 227.6 850.2 227.64 850.6 227.62 851 227.52 851.4 227.33 851.8 227.04 852.2 226.71 852.6 226.38 853 226.07 853.4 225.75 853.8 225.39 854.2 224.99 854.6 224.57 855 224.14 855.4 223.72 855.8 223.31 856.2 222.93 856.6 222.59 857 222.27 857.4 221.94 857.8 221.62 858.2 221.32 858.6 221.04 859 220.8 859.4 220.61 859.8 220.49 860.2 220.4 860.6 220.33 861 220.26 861.4 220.2 861.8 220.16 862.2 220.12 862.6 220.11 863 220.12 863.4 220.18 863.8 220.28 864.2 220.4 864.6 220.53 865 220.65 865.4 220.76 865.8 220.84 866.2 220.87 866.6 220.83 867 220.73 867.4 220.6 867.8 220.44 868.2 220.28 868.6 220.12 869 219.98 869.4 219.87 869.8 219.79 870.2 219.74 870.6 219.72 871 219.71 871.4 219.72 871.8 219.74 872.2 219.76 872.6 219.77 873 219.77 873.4 219.75 873.8 219.7 874.2 219.62 874.6 219.49 875 219.28 875.4 219.01 875.8 218.69 876.2 218.32 876.6 217.91 877 217.46 877.4 217 877.8 216.52 878.2 216.01 878.6 215.37 879 214.62 879.4 213.8 879.8 212.93 880.2 212.05 880.6 211.18 881 210.28 881.4 209.35 881.8 208.39 882.2 207.4 882.6 206.4 883 205.39 883.4 204.36 883.8 203.34 884.2 202.31 884.6 201.28 885 200.23 885.4 199.17 885.8 198.11 886.2 197.03 886.6 195.93 887 194.83 887.4 193.7 887.8 192.54 888.2 191.34 888.6 190.1 889 188.84 889.4 187.57 889.8 186.27 890.2 184.96 890.6 183.66 891 182.37 891.4 181.09 891.8 179.83 892.2 178.58 892.6 177.34 893 176.12 893.4 174.92 893.8 173.73 894.2 172.54 894.6 171.32 895 170.09 895.4 168.87 895.8 167.69 896.2 166.55 896.6 165.48 897 164.48 897.4 163.53 897.8 162.61 898.2 161.73 898.6 160.9 899 160.11 899.4 159.35 899.8 158.63 900.2 157.93 900.6 157.24 901 156.57 901.4 155.91 901.8 155.25 902.2 154.59 902.6 153.92 903 153.24 903.4 152.57 903.8 151.91 904.2 151.27 904.6 150.64 905 150.01 905.4 149.38 905.8 148.75 906.2 148.11 906.6 147.46 907 146.8 907.4 146.12 907.8 145.42 908.2 144.7 908.6 143.97 909 143.24 909.4 142.49 909.8 141.74 910.2 140.97 910.6 140.19 911 139.4 911.4 138.6 911.8 137.77 912.2 136.93 912.6 136.08 913 135.22 913.4 134.34 913.8 133.44 914.2 132.52 914.6 131.53 915 130.49 915.4 129.39 915.8 128.24 916.2 127.06 916.6 125.86 917 124.62 917.4 123.37 917.8 122.14 918.2 120.93 918.6 119.74 919 118.55 919.4 117.38 919.8 116.22 920.2 115.08 920.6 113.95 921 112.82 921.4 111.7 921.8 110.58 922.2 109.48" stroke-width="3.4"/>
<path d="M777.8 232.2 778.2 231.28 778.6 230.39 779 229.54 779.4 228.74 779.8 227.97 780.2 227.27 780.6 226.62 781 226.03 781.4 225.51 781.8 225.07 782.2 224.7 782.6 224.37 783 224.09 783.4 223.84 783.8 223.62 784.2 223.42 784.6 223.24 785 223.08 785.4 222.93 785.8 222.8 786.2 222.69 786.6 222.58 787 222.49 787.4 222.4 787.8 222.33 788.2 222.25 788.6 222.18 789 222.1 789.4 222.02 789.8 221.93 790.2 221.82 790.6 221.71 791 221.57 791.4 221.41 791.8 221.21 792.2 220.99 792.6 220.73 793 220.45 793.4 220.14 793.8 219.8 794.2 219.43 794.6 219.04 795 218.63 795.4 218.2 795.8 217.74 796.2 217.24 796.6 216.67 797 216 797.4 215.23 797.8 214.4 798.2 213.52 798.6 212.62 799 211.7 799.4 210.76 799.8 209.81 800.2 208.84 800.6 207.83 801 206.79 801.4 205.73 801.8 204.65 802.2 203.57 802.6 202.45 803 201.29 803.4 200.1 803.8 198.89 804.2 197.68 804.6 196.5 805 195.35 805.4 194.15 805.8 192.98 806.2 191.93 806.6 191.08 807 190.34 807.4 189.66 807.8 189.05 808.2 188.53 808.6 188.14 809 187.84 809.4 187.58 809.8 187.34 810.2 187.13 810.6 186.94 811 186.77 811.4 186.6 811.8 186.45 812.2 186.3 812.6 186.16 813 186.03 813.4 185.91 813.8 185.79 814.2 185.69 814.6 185.58 815 185.48 815.4 185.38 815.8 185.28 816.2 185.17 816.6 185.05 817 184.92 817.4 184.78 817.8 184.6 818.2 184.39 818.6 184.15 819 183.9 819.4 183.65 819.8 183.42 820.2 183.2 820.6 183.03 821 182.91 821.4 182.84 821.8 182.79 822.2 182.73 822.6 182.67 823 182.61 823.4 182.53 823.8 182.44 824.2 182.34 824.6 182.25 825 182.18 825.4 182.16 825.8 182.19 826.2 182.28 826.6 182.43 827 182.61 827.4 182.86 827.8 183.28 828.2 183.83 828.6 184.46 829 185.15 829.4 185.84 829.8 186.63 830.2 187.53 830.6 188.51 831 189.55 831.4 190.6 831.8 191.62 832.2 192.59 832.6 193.55 833 194.49 833.4 195.39 833.8 196.26 834.2 197.11 834.6 197.92 835 198.71 835.4 199.49 835.8 200.28 836.2 201.09 836.6 201.95 837 202.86 837.4 203.84 837.8 204.87 838.2 205.93 838.6 207 839 208.06 839.4 209.13 839.8 210.21 840.2 211.32 840.6 212.49 841 213.74 841.4 215.04 841.8 216.33 842.2 217.56 842.6 218.79 843 220.11 843.4 221.39 843.8 222.49 844.2 223.27 844.6 223.73 845 224.18 845.4 224.63 845.8 225.1 846.2 225.57 846.6 226.04 847 226.52 847.4 226.99 847.8 227.5 848.2 228.03 848.6 228.55 849 229.04 849.4 229.41 849.8 229.66 850.2 229.86 850.6 230.01 851 230.07 851.4 230.01 851.8 229.83 852.2 229.58 852.6 229.34 853 229.1 853.4 228.85 853.8 228.56 854.2 228.23 854.6 227.88 855 227.52 855.4 227.16 855.8 226.82 856.2 226.49 856.6 226.2 857 225.92 857.4 225.64 857.8 225.37 858.2 225.1 858.6 224.86 859 224.65 859.4 224.49 859.8 224.38 860.2 224.3 860.6 224.23 861 224.17 861.4 224.11 861.8 224.07 862.2 224.04 862.6 224.02 863 224.03 863.4 224.07 863.8 224.15 864.2 224.25 864.6 224.35 865 224.45 865.4 224.53 865.8 224.58 866.2 224.59 866.6 224.53 867 224.41 867.4 224.25 867.8 224.07 868.2 223.88 868.6 223.69 869 223.52 869.4 223.39 869.8 223.29 870.2 223.22 870.6 223.17 871 223.14 871.4 223.13 871.8 223.11 872.2 223.1 872.6 223.07 873 223.03 873.4 222.97 873.8 222.88 874.2 222.75 874.6 222.57 875 222.32 875.4 222.02 875.8 221.66 876.2 221.25 876.6 220.81 877 220.34 877.4 219.86 877.8 219.36 878.2 218.81 878.6 218.16 879 217.42 879.4 216.6 879.8 215.74 880.2 214.86 880.6 213.99 881 213.09 881.4 212.16 881.8 211.21 882.2 210.23 882.6 209.23 883 208.21 883.4 207.19 883.8 206.16 884.2 205.11 884.6 204.06 885 203 885.4 201.92 885.8 200.82 886.2 199.72 886.6 198.59 887 197.45 887.4 196.29 887.8 195.08 888.2 193.82 888.6 192.51 889 191.18 889.4 189.83 889.8 188.47 890.2 187.11 890.6 185.77 891 184.46 891.4 183.17 891.8 181.9 892.2 180.65 892.6 179.41 893 178.18 893.4 176.97 893.8 175.76 894.2 174.53 894.6 173.27 895 171.99 895.4 170.72 895.8 169.48 896.2 168.3 896.6 167.18 897 166.12 897.4 165.11 897.8 164.14 898.2 163.21 898.6 162.33 899 161.5 899.4 160.72 899.8 159.96 900.2 159.24 900.6 158.54 901 157.85 901.4 157.17 901.8 156.49 902.2 155.81 902.6 155.12 903 154.42 903.4 153.73 903.8 153.05 904.2 152.39 904.6 151.73 905 151.08 905.4 150.42 905.8 149.77 906.2 149.11 906.6 148.44 907 147.75 907.4 147.05 907.8 146.34 908.2 145.61 908.6 144.87 909 144.12 909.4 143.37 909.8 142.6 910.2 141.83 910.6 141.05 911 140.25 911.4 139.44 911.8 138.61 912.2 137.77 912.6 136.92 913 136.06 913.4 135.2 913.8 134.32 914.2 133.41 914.6 132.45 915 131.43 915.4 130.36 915.8 129.24 916.2 128.08 916.6 126.88 917 125.63 917.4 124.36 917.8 123.08 918.2 121.81 918.6 120.54 919 119.28 919.4 118.04 919.8 116.82 920.2 115.6 920.6 114.39 921 113.18 921.4 111.98 921.8 110.78 922.2 109.59" stroke-width="3.4"/>
<path d="M777.8 232.2 778.2 231.32 778.6 230.46 779 229.64 779.4 228.86 779.8 228.12 780.2 227.45 780.6 226.83 781 226.28 781.4 225.8 781.8 225.4 782.2 225.08 782.6 224.81 783 224.57 783.4 224.36 783.8 224.17 784.2 224 784.6 223.85 785 223.72 785.4 223.59 785.8 223.48 786.2 223.38 786.6 223.29 787 223.21 787.4 223.14 787.8 223.08 788.2 223.01 788.6 222.95 789 222.89 789.4 222.82 789.8 222.74 790.2 222.65 790.6 222.55 791 222.43 791.4 222.3 791.8 222.13 792.2 221.94 792.6 221.72 793 221.47 793.4 221.19 793.8 220.9 794.2 220.57 794.6 220.23 795 219.86 795.4 219.47 795.8 219.07 796.2 218.61 796.6 218.07 797 217.43 797.4 216.7 797.8 215.92 798.2 215.09 798.6 214.25 799 213.4 799.4 212.53 799.8 211.65 800.2 210.74 800.6 209.8 801 208.85 801.4 207.87 801.8 206.89 802.2 205.91 802.6 204.91 803 203.87 803.4 202.8 803.8 201.72 804.2 200.65 804.6 199.61 805 198.6 805.4 197.56 805.8 196.56 806.2 195.66 806.6 194.93 807 194.29 807.4 193.69 807.8 193.16 808.2 192.7 808.6 192.34 809 192.07 809.4 191.82 809.8 191.6 810.2 191.4 810.6 191.22 811 191.05 811.4 190.89 811.8 190.75 812.2 190.6 812.6 190.47 813 190.34 813.4 190.22 813.8 190.11 814.2 190.01 814.6 189.91 815 189.81 815.4 189.71 815.8 189.61 816.2 189.5 816.6 189.38 817 189.26 817.4 189.13 817.8 188.96 818.2 188.77 818.6 188.56 819 188.33 819.4 188.11 819.8 187.9 820.2 187.7 820.6 187.54 821 187.41 821.4 187.33 821.8 187.26 822.2 187.19 822.6 187.12 823 187.03 823.4 186.93 823.8 186.81 824.2 186.68 824.6 186.55 825 186.45 825.4 186.39 825.8 186.39 826.2 186.44 826.6 186.56 827 186.71 827.4 186.93 827.8 187.28 828.2 187.74 828.6 188.28 829 188.86 829.4 189.45 829.8 190.12 830.2 190.88 830.6 191.72 831 192.63 831.4 193.57 831.8 194.5 832.2 195.4 832.6 196.29 833 197.16 833.4 198 833.8 198.8 834.2 199.58 834.6 200.33 835 201.07 835.4 201.8 835.8 202.53 836.2 203.29 836.6 204.08 837 204.93 837.4 205.83 837.8 206.78 838.2 207.76 838.6 208.74 839 209.73 839.4 210.72 839.8 211.72 840.2 212.75 840.6 213.82 841 214.96 841.4 216.13 841.8 217.29 842.2 218.4 842.6 219.52 843 220.71 843.4 221.86 843.8 222.88 844.2 223.66 844.6 224.18 845 224.7 845.4 225.25 845.8 225.81 846.2 226.38 846.6 226.97 847 227.56 847.4 228.15 847.8 228.81 848.2 229.49 848.6 230.16 849 230.8 849.4 231.32 849.8 231.72 850.2 232.09 850.6 232.4 851 232.62 851.4 232.7 851.8 232.62 852.2 232.46 852.6 232.29 853 232.13 853.4 231.95 853.8 231.73 854.2 231.47 854.6 231.19 855 230.9 855.4 230.61 855.8 230.32 856.2 230.05 856.6 229.81 857 229.58 857.4 229.34 857.8 229.11 858.2 228.89 858.6 228.68 859 228.5 859.4 228.36 859.8 228.26 860.2 228.19 860.6 228.13 861 228.08 861.4 228.03 861.8 227.99 862.2 227.96 862.6 227.94 863 227.94 863.4 227.97 863.8 228.02 864.2 228.09 864.6 228.17 865 228.24 865.4 228.29 865.8 228.32 866.2 228.32 866.6 228.24 867 228.09 867.4 227.91 867.8 227.69 868.2 227.47 868.6 227.26 869 227.07 869.4 226.92 869.8 226.79 870.2 226.7 870.6 226.63 871 226.57 871.4 226.53 871.8 226.48 872.2 226.43 872.6 226.37 873 226.3 873.4 226.2 873.8 226.06 874.2 225.88 874.6 225.65 875 225.36 875.4 225.02 875.8 224.62 876.2 224.19 876.6 223.72 877 223.22 877.4 222.71 877.8 222.19 878.2 221.62 878.6 220.96 879 220.21 879.4 219.4 879.8 218.55 880.2 217.68 880.6 216.8 881 215.91 881.4 214.98 881.8 214.03 882.2 213.05 882.6 212.06 883 211.04 883.4 210.01 883.8 208.97 884.2 207.92 884.6 206.85 885 205.76 885.4 204.66 885.8 203.54 886.2 202.4 886.6 201.25 887 200.07 887.4 198.87 887.8 197.62 888.2 196.29 888.6 194.92 889 193.51 889.4 192.09 889.8 190.66 890.2 189.25 890.6 187.87 891 186.55 891.4 185.25 891.8 183.97 892.2 182.72 892.6 181.48 893 180.24 893.4 179.02 893.8 177.79 894.2 176.53 894.6 175.22 895 173.9 895.4 172.57 895.8 171.28 896.2 170.04 896.6 168.88 897 167.76 897.4 166.7 897.8 165.67 898.2 164.69 898.6 163.77 899 162.9 899.4 162.08 899.8 161.3 900.2 160.55 900.6 159.83 901 159.12 901.4 158.42 901.8 157.73 902.2 157.03 902.6 156.32 903 155.6 903.4 154.89 903.8 154.19 904.2 153.5 904.6 152.82 905 152.15 905.4 151.47 905.8 150.79 906.2 150.11 906.6 149.41 907 148.71 907.4 147.99 907.8 147.26 908.2 146.51 908.6 145.76 909 145.01 909.4 144.24 909.8 143.47 910.2 142.69 910.6 141.9 911 141.09 911.4 140.28 911.8 139.45 912.2 138.61 912.6 137.76 913 136.91 913.4 136.06 913.8 135.19 914.2 134.31 914.6 133.37 915 132.38 915.4 131.34 915.8 130.25 916.2 129.11 916.6 127.91 917 126.65 917.4 125.34 917.8 124.01 918.2 122.68 918.6 121.34 919 120.01 919.4 118.7 919.8 117.41 920.2 116.12 920.6 114.84 921 113.55 921.4 112.26 921.8 110.98 922.2 109.7" stroke-width="3.4"/>
<path d="M777.8 232.2 778.2 231.35 778.6 230.52 779 229.73 779.4 228.98 779.8 228.27 780.2 227.63 780.6 227.04 781 226.52 781.4 226.09 781.8 225.74 782.2 225.47 782.6 225.25 783 225.05 783.4 224.88 783.8 224.73 784.2 224.59 784.6 224.47 785 224.35 785.4 224.25 785.8 224.16 786.2 224.08 786.6 224.01 787 223.94 787.4 223.88 787.8 223.82 788.2 223.77 788.6 223.72 789 223.67 789.4 223.61 789.8 223.55 790.2 223.48 790.6 223.39 791 223.3 791.4 223.19 791.8 223.05 792.2 222.89 792.6 222.7 793 222.49 793.4 222.25 793.8 221.99 794.2 221.71 794.6 221.41 795 221.09 795.4 220.75 795.8 220.39 796.2 219.97 796.6 219.47 797 218.86 797.4 218.17 797.8 217.43 798.2 216.66 798.6 215.88 799 215.1 799.4 214.3 799.8 213.48 800.2 212.64 800.6 211.78 801 210.9 801.4 210.02 801.8 209.13 802.2 208.26 802.6 207.37 803 206.44 803.4 205.5 803.8 204.55 804.2 203.62 804.6 202.72 805 201.85 805.4 200.97 805.8 200.14 806.2 199.39 806.6 198.77 807 198.23 807.4 197.72 807.8 197.26 808.2 196.87 808.6 196.55 809 196.3 809.4 196.07 809.8 195.86 810.2 195.67 810.6 195.5 811 195.34 811.4 195.18 811.8 195.04 812.2 194.9 812.6 194.77 813 194.65 813.4 194.54 813.8 194.43 814.2 194.33 814.6 194.23 815 194.13 815.4 194.03 815.8 193.94 816.2 193.83 816.6 193.72 817 193.6 817.4 193.48 817.8 193.33 818.2 193.15 818.6 192.96 819 192.77 819.4 192.57 819.8 192.38 820.2 192.2 820.6 192.05 821 191.92 821.4 191.83 821.8 191.74 822.2 191.65 822.6 191.56 823 191.45 823.4 191.32 823.8 191.17 824.2 191.01 824.6 190.86 825 190.72 825.4 190.63 825.8 190.59 826.2 190.61 826.6 190.69 827 190.81 827.4 190.99 827.8 191.28 828.2 191.65 828.6 192.09 829 192.57 829.4 193.06 829.8 193.61 830.2 194.23 830.6 194.93 831 195.71 831.4 196.54 831.8 197.38 832.2 198.2 832.6 199.03 833 199.83 833.4 200.6 833.8 201.33 834.2 202.05 834.6 202.74 835 203.42 835.4 204.1 835.8 204.78 836.2 205.49 836.6 206.22 837 207 837.4 207.82 837.8 208.69 838.2 209.58 838.6 210.49 839 211.39 839.4 212.3 839.8 213.23 840.2 214.17 840.6 215.15 841 216.18 841.4 217.22 841.8 218.26 842.2 219.25 842.6 220.25 843 221.3 843.4 222.34 843.8 223.28 844.2 224.05 844.6 224.63 845 225.23 845.4 225.86 845.8 226.52 846.2 227.2 846.6 227.89 847 228.6 847.4 229.32 847.8 230.11 848.2 230.94 848.6 231.77 849 232.56 849.4 233.24 849.8 233.78 850.2 234.31 850.6 234.79 851 235.17 851.4 235.39 851.8 235.4 852.2 235.33 852.6 235.25 853 235.16 853.4 235.05 853.8 234.9 854.2 234.71 854.6 234.5 855 234.27 855.4 234.05 855.8 233.83 856.2 233.62 856.6 233.42 857 233.23 857.4 233.04 857.8 232.85 858.2 232.67 858.6 232.5 859 232.36 859.4 232.24 859.8 232.15 860.2 232.09 860.6 232.03 861 231.98 861.4 231.94 861.8 231.9 862.2 231.88 862.6 231.85 863 231.85 863.4 231.86 863.8 231.9 864.2 231.94 864.6 231.99 865 232.03 865.4 232.06 865.8 232.07 866.2 232.04 866.6 231.94 867 231.78 867.4 231.56 867.8 231.32 868.2 231.07 868.6 230.83 869 230.61 869.4 230.44 869.8 230.3 870.2 230.18 870.6 230.09 871 230 871.4 229.93 871.8 229.85 872.2 229.77 872.6 229.68 873 229.56 873.4 229.42 873.8 229.24 874.2 229.01 874.6 228.74 875 228.4 875.4 228.02 875.8 227.59 876.2 227.12 876.6 226.63 877 226.1 877.4 225.57 877.8 225.02 878.2 224.43 878.6 223.75 879 223 879.4 222.2 879.8 221.36 880.2 220.49 880.6 219.62 881 218.72 881.4 217.79 881.8 216.85 882.2 215.88 882.6 214.88 883 213.87 883.4 212.83 883.8 211.78 884.2 210.72 884.6 209.63 885 208.53 885.4 207.41 885.8 206.26 886.2 205.09 886.6 203.9 887 202.69 887.4 201.46 887.8 200.16 888.2 198.77 888.6 197.33 889 195.85 889.4 194.35 889.8 192.86 890.2 191.4 890.6 189.98 891 188.63 891.4 187.32 891.8 186.04 892.2 184.78 892.6 183.54 893 182.3 893.4 181.06 893.8 179.81 894.2 178.52 894.6 177.18 895 175.8 895.4 174.43 895.8 173.08 896.2 171.78 896.6 170.57 897 169.41 897.4 168.29 897.8 167.2 898.2 166.17 898.6 165.2 899 164.29 899.4 163.44 899.8 162.64 900.2 161.87 900.6 161.12 901 160.4 901.4 159.68 901.8 158.97 902.2 158.25 902.6 157.52 903 156.78 903.4 156.05 903.8 155.33 904.2 154.62 904.6 153.92 905 153.22 905.4 152.51 905.8 151.81 906.2 151.1 906.6 150.39 907 149.67 907.4 148.93 907.8 148.18 908.2 147.42 908.6 146.66 909 145.89 909.4 145.12 909.8 144.33 910.2 143.55 910.6 142.75 911 141.94 911.4 141.12 911.8 140.29 912.2 139.45 912.6 138.6 913 137.76 913.4 136.92 913.8 136.07 914.2 135.2 914.6 134.29 915 133.33 915.4 132.31 915.8 131.25 916.2 130.13 916.6 128.94 917 127.66 917.4 126.32 917.8 124.94 918.2 123.55 918.6 122.14 919 120.74 919.4 119.36 919.8 118 920.2 116.64 920.6 115.28 921 113.92 921.4 112.55 921.8 111.18 922.2 109.8" stroke-width="3.4"/>
<path d="M777.8 232.2 778.2 231.38 778.6 230.59 779 229.83 779.4 229.1 779.8 228.42 780.2 227.81 780.6 227.25 781 226.77 781.4 226.38 781.8 226.07 782.2 225.86 782.6 225.69 783 225.53 783.4 225.4 783.8 225.28 784.2 225.17 784.6 225.08 785 224.99 785.4 224.92 785.8 224.84 786.2 224.78 786.6 224.72 787 224.66 787.4 224.62 787.8 224.57 788.2 224.53 788.6 224.49 789 224.45 789.4 224.41 789.8 224.36 790.2 224.3 790.6 224.24 791 224.16 791.4 224.08 791.8 223.97 792.2 223.84 792.6 223.68 793 223.51 793.4 223.31 793.8 223.09 794.2 222.86 794.6 222.6 795 222.32 795.4 222.03 795.8 221.72 796.2 221.34 796.6 220.86 797 220.29 797.4 219.64 797.8 218.95 798.2 218.23 798.6 217.51 799 216.8 799.4 216.06 799.8 215.31 800.2 214.54 800.6 213.75 801 212.95 801.4 212.16 801.8 211.37 802.2 210.61 802.6 209.82 803 209.02 803.4 208.2 803.8 207.39 804.2 206.59 804.6 205.82 805 205.1 805.4 204.38 805.8 203.72 806.2 203.12 806.6 202.62 807 202.17 807.4 201.75 807.8 201.37 808.2 201.04 808.6 200.76 809 200.53 809.4 200.32 809.8 200.12 810.2 199.94 810.6 199.78 811 199.62 811.4 199.47 811.8 199.34 812.2 199.2 812.6 199.08 813 198.96 813.4 198.85 813.8 198.75 814.2 198.65 814.6 198.55 815 198.46 815.4 198.36 815.8 198.26 816.2 198.16 816.6 198.06 817 197.95 817.4 197.83 817.8 197.69 818.2 197.53 818.6 197.37 819 197.2 819.4 197.03 819.8 196.86 820.2 196.7 820.6 196.56 821 196.43 821.4 196.32 821.8 196.22 822.2 196.11 822.6 196 823 195.88 823.4 195.72 823.8 195.54 824.2 195.35 824.6 195.16 825 194.99 825.4 194.86 825.8 194.78 826.2 194.77 826.6 194.82 827 194.91 827.4 195.05 827.8 195.27 828.2 195.56 828.6 195.91 829 196.28 829.4 196.66 829.8 197.1 830.2 197.58 830.6 198.14 831 198.79 831.4 199.51 831.8 200.25 832.2 201.01 832.6 201.77 833 202.5 833.4 203.21 833.8 203.87 834.2 204.52 834.6 205.16 835 205.78 835.4 206.4 835.8 207.04 836.2 207.68 836.6 208.36 837 209.07 837.4 209.81 837.8 210.6 838.2 211.41 838.6 212.23 839 213.06 839.4 213.89 839.8 214.74 840.2 215.6 840.6 216.48 841 217.39 841.4 218.31 841.8 219.22 842.2 220.1 842.6 220.98 843 221.9 843.4 222.82 843.8 223.68 844.2 224.43 844.6 225.08 845 225.76 845.4 226.48 845.8 227.23 846.2 228.01 846.6 228.82 847 229.64 847.4 230.48 847.8 231.41 848.2 232.39 848.6 233.38 849 234.32 849.4 235.15 849.8 235.85 850.2 236.54 850.6 237.18 851 237.72 851.4 238.07 851.8 238.19 852.2 238.21 852.6 238.2 853 238.19 853.4 238.15 853.8 238.07 854.2 237.95 854.6 237.81 855 237.65 855.4 237.49 855.8 237.33 856.2 237.18 856.6 237.03 857 236.89 857.4 236.74 857.8 236.6 858.2 236.46 858.6 236.33 859 236.21 859.4 236.11 859.8 236.04 860.2 235.99 860.6 235.94 861 235.89 861.4 235.85 861.8 235.82 862.2 235.79 862.6 235.77 863 235.76 863.4 235.76 863.8 235.77 864.2 235.79 864.6 235.81 865 235.82 865.4 235.82 865.8 235.81 866.2 235.77 866.6 235.65 867 235.46 867.4 235.22 867.8 234.95 868.2 234.66 868.6 234.39 869 234.16 869.4 233.96 869.8 233.8 870.2 233.66 870.6 233.54 871 233.44 871.4 233.33 871.8 233.22 872.2 233.11 872.6 232.98 873 232.82 873.4 232.64 873.8 232.42 874.2 232.14 874.6 231.82 875 231.44 875.4 231.02 875.8 230.56 876.2 230.06 876.6 229.53 877 228.99 877.4 228.42 877.8 227.85 878.2 227.23 878.6 226.54 879 225.8 879.4 225 879.8 224.16 880.2 223.3 880.6 222.43 881 221.53 881.4 220.61 881.8 219.67 882.2 218.7 882.6 217.71 883 216.69 883.4 215.66 883.8 214.6 884.2 213.52 884.6 212.42 885 211.3 885.4 210.15 885.8 208.98 886.2 207.78 886.6 206.56 887 205.32 887.4 204.04 887.8 202.69 888.2 201.25 888.6 199.74 889 198.18 889.4 196.62 889.8 195.06 890.2 193.54 890.6 192.09 891 190.72 891.4 189.4 891.8 188.11 892.2 186.85 892.6 185.61 893 184.36 893.4 183.11 893.8 181.84 894.2 180.52 894.6 179.13 895 177.71 895.4 176.28 895.8 174.87 896.2 173.53 896.6 172.27 897 171.05 897.4 169.87 897.8 168.74 898.2 167.65 898.6 166.63 899 165.69 899.4 164.81 899.8 163.97 900.2 163.18 900.6 162.41 901 161.67 901.4 160.94 901.8 160.21 902.2 159.47 902.6 158.72 903 157.96 903.4 157.21 903.8 156.47 904.2 155.74 904.6 155.01 905 154.28 905.4 153.56 905.8 152.83 906.2 152.1 906.6 151.37 907 150.62 907.4 149.87 907.8 149.1 908.2 148.33 908.6 147.55 909 146.77 909.4 145.99 909.8 145.2 910.2 144.4 910.6 143.6 911 142.79 911.4 141.97 911.8 141.13 912.2 140.29 912.6 139.45 913 138.61 913.4 137.78 913.8 136.95 914.2 136.09 914.6 135.21 915 134.27 915.4 133.29 915.8 132.25 916.2 131.15 916.6 129.97 917 128.68 917.4 127.31 917.8 125.88 918.2 124.42 918.6 122.94 919 121.47 919.4 120.02 919.8 118.59 920.2 117.17 920.6 115.73 921 114.28 921.4 112.83 921.8 111.37 922.2 109.91" stroke-width="3.4"/>
<path d="M777.8 232.2 778.2 231.42 778.6 230.65 779 229.92 779.4 229.22 779.8 228.57 780.2 227.99 780.6 227.46 781 227.02 781.4 226.67 781.8 226.41 782.2 226.25 782.6 226.13 783 226.02 783.4 225.92 783.8 225.83 784.2 225.76 784.6 225.69 785 225.63 785.4 225.58 785.8 225.52 786.2 225.48 786.6 225.43 787 225.39 787.4 225.35 787.8 225.32 788.2 225.29 788.6 225.26 789 225.23 789.4 225.2 789.8 225.17 790.2 225.13 790.6 225.08 791 225.03 791.4 224.97 791.8 224.89 792.2 224.79 792.6 224.67 793 224.53 793.4 224.37 793.8 224.19 794.2 224 794.6 223.78 795 223.55 795.4 223.31 795.8 223.04 796.2 222.71 796.6 222.26 797 221.72 797.4 221.11 797.8 220.46 798.2 219.8 798.6 219.14 799 218.5 799.4 217.83 799.8 217.14 800.2 216.44 800.6 215.72 801 215.01 801.4 214.3 801.8 213.62 802.2 212.95 802.6 212.28 803 211.59 803.4 210.9 803.8 210.22 804.2 209.56 804.6 208.93 805 208.35 805.4 207.8 805.8 207.3 806.2 206.85 806.6 206.47 807 206.11 807.4 205.78 807.8 205.48 808.2 205.21 808.6 204.97 809 204.76 809.4 204.56 809.8 204.38 810.2 204.22 810.6 204.06 811 203.91 811.4 203.76 811.8 203.63 812.2 203.51 812.6 203.39 813 203.27 813.4 203.17 813.8 203.07 814.2 202.97 814.6 202.88 815 202.78 815.4 202.69 815.8 202.59 816.2 202.5 816.6 202.4 817 202.29 817.4 202.18 817.8 202.05 818.2 201.92 818.6 201.78 819 201.63 819.4 201.49 819.8 201.34 820.2 201.2 820.6 201.06 821 200.94 821.4 200.82 821.8 200.7 822.2 200.57 822.6 200.44 823 200.3 823.4 200.11 823.8 199.9 824.2 199.68 824.6 199.46 825 199.26 825.4 199.1 825.8 198.98 826.2 198.93 826.6 198.95 827 199.01 827.4 199.11 827.8 199.27 828.2 199.48 828.6 199.72 829 199.99 829.4 200.27 829.8 200.59 830.2 200.93 830.6 201.35 831 201.87 831.4 202.48 831.8 203.13 832.2 203.81 832.6 204.5 833 205.18 833.4 205.81 833.8 206.41 834.2 206.99 834.6 207.57 835 208.14 835.4 208.71 835.8 209.29 836.2 209.88 836.6 210.5 837 211.14 837.4 211.81 837.8 212.51 838.2 213.23 838.6 213.97 839 214.72 839.4 215.48 839.8 216.25 840.2 217.03 840.6 217.81 841 218.61 841.4 219.4 841.8 220.18 842.2 220.94 842.6 221.71 843 222.5 843.4 223.3 843.8 224.08 844.2 224.82 844.6 225.53 845 226.29 845.4 227.09 845.8 227.94 846.2 228.82 846.6 229.74 847 230.68 847.4 231.64 847.8 232.71 848.2 233.85 848.6 234.99 849 236.08 849.4 237.06 849.8 237.91 850.2 238.76 850.6 239.57 851 240.27 851.4 240.76 851.8 240.98 852.2 241.08 852.6 241.16 853 241.22 853.4 241.24 853.8 241.24 854.2 241.19 854.6 241.11 855 241.03 855.4 240.93 855.8 240.84 856.2 240.74 856.6 240.64 857 240.54 857.4 240.44 857.8 240.34 858.2 240.24 858.6 240.15 859 240.06 859.4 239.99 859.8 239.93 860.2 239.88 860.6 239.84 861 239.8 861.4 239.77 861.8 239.74 862.2 239.71 862.6 239.69 863 239.67 863.4 239.65 863.8 239.65 864.2 239.64 864.6 239.63 865 239.61 865.4 239.59 865.8 239.55 866.2 239.5 866.6 239.35 867 239.14 867.4 238.87 867.8 238.57 868.2 238.26 868.6 237.96 869 237.7 869.4 237.49 869.8 237.3 870.2 237.15 870.6 237 871 236.87 871.4 236.73 871.8 236.6 872.2 236.45 872.6 236.28 873 236.09 873.4 235.87 873.8 235.6 874.2 235.28 874.6 234.9 875 234.49 875.4 234.02 875.8 233.52 876.2 232.99 876.6 232.44 877 231.87 877.4 231.28 877.8 230.68 878.2 230.04 878.6 229.34 879 228.59 879.4 227.8 879.8 226.97 880.2 226.12 880.6 225.24 881 224.35 881.4 223.42 881.8 222.49 882.2 221.52 882.6 220.54 883 219.52 883.4 218.48 883.8 217.41 884.2 216.32 884.6 215.21 885 214.06 885.4 212.89 885.8 211.7 886.2 210.47 886.6 209.22 887 207.94 887.4 206.63 887.8 205.23 888.2 203.73 888.6 202.14 889 200.52 889.4 198.88 889.8 197.26 890.2 195.69 890.6 194.2 891 192.81 891.4 191.47 891.8 190.18 892.2 188.92 892.6 187.67 893 186.43 893.4 185.16 893.8 183.86 894.2 182.51 894.6 181.09 895 179.61 895.4 178.13 895.8 176.67 896.2 175.27 896.6 173.96 897 172.69 897.4 171.46 897.8 170.27 898.2 169.13 898.6 168.07 899 167.08 899.4 166.17 899.8 165.31 900.2 164.49 900.6 163.71 901 162.94 901.4 162.19 901.8 161.45 902.2 160.69 902.6 159.92 903 159.14 903.4 158.37 903.8 157.61 904.2 156.85 904.6 156.1 905 155.35 905.4 154.6 905.8 153.85 906.2 153.1 906.6 152.34 907 151.58 907.4 150.81 907.8 150.02 908.2 149.24 908.6 148.45 909 147.66 909.4 146.86 909.8 146.06 910.2 145.26 910.6 144.45 911 143.63 911.4 142.81 911.8 141.97 912.2 141.13 912.6 140.29 913 139.46 913.4 138.64 913.8 137.82 914.2 136.99 914.6 136.12 915 135.22 915.4 134.26 915.8 133.25 916.2 132.17 916.6 131 917 129.7 917.4 128.29 917.8 126.81 918.2 125.29 918.6 123.74 919 122.2 919.4 120.68 919.8 119.19 920.2 117.69 920.6 116.18 921 114.65 921.4 113.12 921.8 111.57 922.2 110.02" stroke-width="3.4"/>
<path d="M777.8 232.2 778.2 231.45 778.6 230.72 779 230.02 779.4 229.35 779.8 228.74 780.2 228.18 780.6 227.69 781 227.29 781.4 226.98 781.8 226.77 782.2 226.67 782.6 226.6 783 226.54 783.4 226.48 783.8 226.43 784.2 226.39 784.6 226.36 785 226.32 785.4 226.29 785.8 226.26 786.2 226.23 786.6 226.2 787 226.18 787.4 226.15 787.8 226.13 788.2 226.11 788.6 226.1 789 226.08 789.4 226.06 789.8 226.04 790.2 226.02 790.6 226 791 225.97 791.4 225.93 791.8 225.88 792.2 225.81 792.6 225.73 793 225.63 793.4 225.51 793.8 225.38 794.2 225.23 794.6 225.07 795 224.89 795.4 224.69 795.8 224.48 796.2 224.19 796.6 223.77 797 223.27 797.4 222.7 797.8 222.1 798.2 221.49 798.6 220.91 799 220.34 799.4 219.75 799.8 219.13 800.2 218.49 800.6 217.86 801 217.23 801.4 216.62 801.8 216.04 802.2 215.49 802.6 214.94 803 214.38 803.4 213.83 803.8 213.29 804.2 212.78 804.6 212.3 805 211.87 805.4 211.49 805.8 211.18 806.2 210.9 806.6 210.63 807 210.38 807.4 210.15 807.8 209.93 808.2 209.72 808.6 209.53 809 209.34 809.4 209.17 809.8 209 810.2 208.84 810.6 208.69 811 208.55 811.4 208.41 811.8 208.28 812.2 208.16 812.6 208.05 813 207.94 813.4 207.84 813.8 207.75 814.2 207.65 814.6 207.56 815 207.47 815.4 207.38 815.8 207.28 816.2 207.19 816.6 207.09 817 206.99 817.4 206.89 817.8 206.78 818.2 206.66 818.6 206.55 819 206.43 819.4 206.32 819.8 206.2 820.2 206.07 820.6 205.95 821 205.82 821.4 205.69 821.8 205.55 822.2 205.4 822.6 205.25 823 205.09 823.4 204.88 823.8 204.63 824.2 204.38 824.6 204.13 825 203.89 825.4 203.68 825.8 203.53 826.2 203.44 826.6 203.42 827 203.45 827.4 203.51 827.8 203.6 828.2 203.71 828.6 203.85 829 204.01 829.4 204.18 829.8 204.37 830.2 204.56 830.6 204.82 831 205.21 831.4 205.7 831.8 206.25 832.2 206.85 832.6 207.47 833 208.07 833.4 208.63 833.8 209.15 834.2 209.67 834.6 210.18 835 210.69 835.4 211.21 835.8 211.73 836.2 212.26 836.6 212.81 837 213.38 837.4 213.96 837.8 214.58 838.2 215.21 838.6 215.86 839 216.53 839.4 217.21 839.8 217.89 840.2 218.57 840.6 219.25 841 219.92 841.4 220.58 841.8 221.22 842.2 221.86 842.6 222.5 843 223.14 843.4 223.81 843.8 224.51 844.2 225.24 844.6 226.02 845 226.86 845.4 227.76 845.8 228.71 846.2 229.71 846.6 230.74 847 231.8 847.4 232.91 847.8 234.13 848.2 235.42 848.6 236.73 849 237.99 849.4 239.13 849.8 240.14 850.2 241.17 850.6 242.16 851 243.03 851.4 243.67 851.8 244 852.2 244.19 852.6 244.36 853 244.5 853.4 244.6 853.8 244.67 854.2 244.7 854.6 244.7 855 244.69 855.4 244.66 855.8 244.63 856.2 244.6 856.6 244.55 857 244.5 857.4 244.45 857.8 244.4 858.2 244.34 858.6 244.29 859 244.24 859.4 244.19 859.8 244.14 860.2 244.1 860.6 244.07 861 244.03 861.4 244.01 861.8 243.98 862.2 243.95 862.6 243.93 863 243.9 863.4 243.87 863.8 243.84 864.2 243.81 864.6 243.77 865 243.72 865.4 243.67 865.8 243.61 866.2 243.53 866.6 243.37 867 243.13 867.4 242.83 867.8 242.5 868.2 242.16 868.6 241.83 869 241.54 869.4 241.3 869.8 241.1 870.2 240.92 870.6 240.75 871 240.58 871.4 240.42 871.8 240.25 872.2 240.06 872.6 239.86 873 239.62 873.4 239.36 873.8 239.04 874.2 238.67 874.6 238.25 875 237.78 875.4 237.28 875.8 236.74 876.2 236.17 876.6 235.59 877 234.99 877.4 234.37 877.8 233.75 878.2 233.08 878.6 232.37 879 231.62 879.4 230.83 879.8 230.01 880.2 229.16 880.6 228.29 881 227.39 881.4 226.47 881.8 225.54 882.2 224.58 882.6 223.6 883 222.58 883.4 221.54 883.8 220.46 884.2 219.36 884.6 218.22 885 217.06 885.4 215.86 885.8 214.64 886.2 213.38 886.6 212.1 887 210.78 887.4 209.43 887.8 207.98 888.2 206.41 888.6 204.75 889 203.05 889.4 201.33 889.8 199.64 890.2 198.01 890.6 196.48 891 195.07 891.4 193.72 891.8 192.43 892.2 191.16 892.6 189.91 893 188.66 893.4 187.38 893.8 186.06 894.2 184.67 894.6 183.2 895 181.68 895.4 180.14 895.8 178.62 896.2 177.16 896.6 175.8 897 174.47 897.4 173.18 897.8 171.93 898.2 170.73 898.6 169.62 899 168.59 899.4 167.65 899.8 166.76 900.2 165.91 900.6 165.11 901 164.32 901.4 163.56 901.8 162.79 902.2 162.02 902.6 161.22 903 160.42 903.4 159.63 903.8 158.85 904.2 158.06 904.6 157.29 905 156.51 905.4 155.74 905.8 154.96 906.2 154.18 906.6 153.4 907 152.61 907.4 151.82 907.8 151.02 908.2 150.22 908.6 149.42 909 148.62 909.4 147.81 909.8 147 910.2 146.19 910.6 145.37 911 144.55 911.4 143.72 911.8 142.88 912.2 142.04 912.6 141.2 913 140.38 913.4 139.57 913.8 138.77 914.2 137.96 914.6 137.12 915 136.24 915.4 135.32 915.8 134.34 916.2 133.28 916.6 132.11 917 130.8 917.4 129.36 917.8 127.83 918.2 126.24 918.6 124.61 919 122.99 919.4 121.39 919.8 119.83 920.2 118.25 920.6 116.66 921 115.05 921.4 113.43 921.8 111.79 922.2 110.13" stroke-width="3.4"/>
</g>
<text x="4.5" y="42.6" font-size="22.6" textLength="28.9" lengthAdjust="spacingAndGlyphs">AU</text>
<text x="73.6" y="55.75" font-size="21" text-anchor="end" textLength="28.46" lengthAdjust="spacingAndGlyphs">0.6</text>
<text x="73.6" y="111.55" font-size="21" text-anchor="end" textLength="28.46" lengthAdjust="spacingAndGlyphs">0.4</text>
<text x="73.6" y="167.35" font-size="21" text-anchor="end" textLength="28.46" lengthAdjust="spacingAndGlyphs">0.2</text>
<text x="73.6" y="223.15" font-size="21" text-anchor="end" textLength="28.46" lengthAdjust="spacingAndGlyphs">0.0</text>
<text x="73.6" y="278.95" font-size="21" text-anchor="end" textLength="35.28" lengthAdjust="spacingAndGlyphs">-0.2</text>
<text x="73.6" y="334.75" font-size="21" text-anchor="end" textLength="35.28" lengthAdjust="spacingAndGlyphs">-0.4</text>
<text x="100.4" y="404.2" font-size="17.9" text-anchor="middle">1000</text>
<text x="259.5" y="404.2" font-size="17.9" text-anchor="middle">1200</text>
<text x="418.9" y="404.2" font-size="17.9" text-anchor="middle">1400</text>
<text x="578.2" y="404.2" font-size="17.9" text-anchor="middle">1600</text>
<text x="739.2" y="404.2" font-size="17.9" text-anchor="middle">1800</text>
<text x="898.4" y="404.2" font-size="17.9" text-anchor="middle">2000</text>
<text x="1057.9" y="404.2" font-size="17.9" text-anchor="middle">2200</text>
<text x="539.6" y="429.3" font-size="22.8" textLength="118.6" lengthAdjust="spacingAndGlyphs">Wavelength</text>
<text transform="translate(28.5 233.2) rotate(-90)" x="0" y="0" font-size="22.4" textLength="85.5" lengthAdjust="spacingAndGlyphs">Intensity</text>
<text x="1065.3" y="415.2" font-size="20.6" textLength="31.4" lengthAdjust="spacingAndGlyphs">nm</text>
</svg></body></html>
